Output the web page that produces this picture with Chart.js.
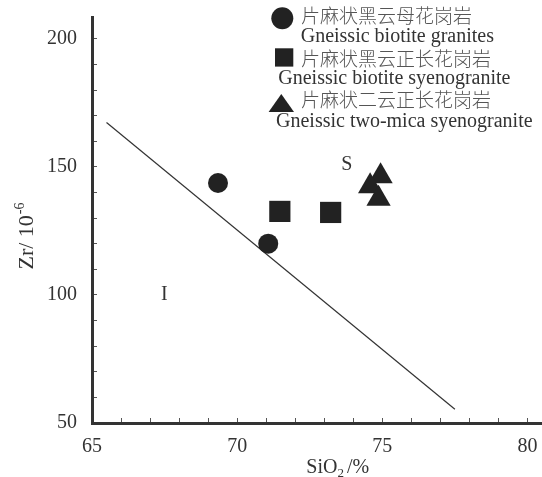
<!DOCTYPE html>
<html><head><meta charset="utf-8">
<script src="https://cdn.jsdelivr.net/npm/chart.js@4"></script>
<style>html,body{margin:0;padding:0;background:#fff;overflow:hidden}#wrap{width:542px;height:477px;position:relative}canvas{display:block}</style>
</head><body><div id="wrap"><canvas id="c"></canvas></div>
<script>
// ---- data ----
const graniteSiO2 = [69.34, 71.07];
const graniteZr = [143.7, 120.0];
const syenograniteSiO2 = [71.47, 73.22];
const syenograniteZr = [132.6, 132.2];
const twoMicaSiO2 = [74.94, 74.58, 74.87];
const twoMicaZr = [146.3, 142.4, 137.5];
const boundarySiO2 = [65.5, 77.5];
const boundaryZr = [167.3, 55.4];
const xTickLabels = [65, 70, 75, 80];
const yTickLabels = [50, 100, 150, 200];
const fieldNames = ['S', 'I'];
const fieldSiO2 = [73.78, 67.49];
const fieldZr = [150.8, 100.1];
const seriesCN = ['片麻状黑云母花岗岩', '片麻状黑云正长花岗岩', '片麻状二云正长花岗岩'];
const seriesEN = ['Gneissic biotite granites', 'Gneissic biotite syenogranite', 'Gneissic two-mica syenogranite'];

const SERIF = "'Liberation Serif','Times New Roman',serif";
const CJK = "'Noto Sans CJK SC',sans-serif";
const MARK = '#222';
const TEXT = '#333';

const zip = (xs, ys) => xs.map((x, i) => ({x, y: ys[i]}));
const near = (a, b) => Math.abs(a - b) < 1e-6;

const overlay = {
  id: 'overlay',
  afterDraw(chart) {
    const ctx = chart.ctx;
    const xs = chart.scales.x, ys = chart.scales.y;
    ctx.save();
    // field labels S / I
    ctx.fillStyle = TEXT;
    ctx.font = '20px ' + SERIF;
    ctx.textAlign = 'center';
    ctx.textBaseline = 'middle';
    fieldNames.forEach((n, i) => {
      ctx.fillText(n, xs.getPixelForValue(fieldSiO2[i]), ys.getPixelForValue(fieldZr[i]));
    });
    // x title: SiO2/%
    ctx.textAlign = 'left';
    ctx.textBaseline = 'alphabetic';
    const f1 = '20px ' + SERIF, f2 = '13px ' + SERIF;
    ctx.font = f1; const wA = ctx.measureText('SiO').width;
    ctx.font = f2; const wB = ctx.measureText('2').width;
    ctx.font = f1; const wC = ctx.measureText('/%').width;
    const gap = 3;
    const x0 = 337.7 - (wA + wB + gap + wC) / 2;
    ctx.font = f1; ctx.fillText('SiO', x0, 473);
    ctx.font = f2; ctx.fillText('2', x0 + wA, 477);
    ctx.font = f1; ctx.fillText('/%', x0 + wA + wB + gap, 473);
    // y title: Zr/10^-6
    ctx.save();
    ctx.translate(26, 236);
    ctx.rotate(-Math.PI / 2);
    ctx.textBaseline = 'middle';
    ctx.font = '22px ' + SERIF; const wM = ctx.measureText('Zr/ 10').width;
    ctx.font = '14px ' + SERIF; const wS = ctx.measureText('-6').width;
    const sx = -(wM + wS + 1) / 2;
    ctx.font = '22px ' + SERIF; ctx.fillText('Zr/ 10', sx, 1);
    ctx.font = '14px ' + SERIF; ctx.fillText('-6', sx + wM + 1, -6);
    ctx.restore();
    // legend
    ctx.fillStyle = MARK;
    ctx.beginPath(); ctx.arc(282.3, 18.3, 11, 0, Math.PI * 2); ctx.fill();
    ctx.fillRect(275, 48.3, 18.3, 18.3);
    ctx.beginPath(); ctx.moveTo(281.3, 94); ctx.lineTo(294, 112); ctx.lineTo(268.6, 112); ctx.closePath(); ctx.fill();
    ctx.textAlign = 'left';
    ctx.textBaseline = 'middle';
    const cnY = [15.7, 58.3, 100], enY = [36.7, 79, 121.7], enX = [300.7, 278.3, 276];
    seriesCN.forEach((t, i) => {
      ctx.fillStyle = '#555';
      ctx.font = '300 19px ' + CJK;
      ctx.fillText(t, 301, cnY[i]);
      ctx.fillStyle = TEXT;
      ctx.font = '20px ' + SERIF;
      ctx.fillText(seriesEN[i], enX[i], enY[i]);
    });
    ctx.restore();
  }
};

new Chart(document.getElementById('c'), {
  type: 'scatter',
  data: {
    datasets: [
      {label: seriesEN[0], data: zip(graniteSiO2, graniteZr), pointStyle: 'circle', pointRadius: 10,
       backgroundColor: MARK, borderColor: MARK, borderWidth: 0},
      {label: seriesEN[1], data: zip(syenograniteSiO2, syenograniteZr), pointStyle: 'rect', pointRadius: 15,
       backgroundColor: MARK, borderColor: MARK, borderWidth: 0},
      {label: seriesEN[2], data: zip(twoMicaSiO2, twoMicaZr), pointStyle: 'triangle', pointRadius: 14,
       backgroundColor: MARK, borderColor: MARK, borderWidth: 0},
      {label: 'boundary', data: zip(boundarySiO2, boundaryZr), showLine: true, pointRadius: 0,
       borderColor: '#333', borderWidth: 1.2, fill: false}
    ]
  },
  options: {
    responsive: true,
    maintainAspectRatio: false,
    animation: false,
    events: [],
    layout: {autoPadding: false, padding: {top: 17, right: 0, bottom: 0, left: 0}},
    plugins: {legend: {display: false}, tooltip: {enabled: false}, title: {display: false}},
    scales: {
      x: {
        type: 'linear', min: 65, max: 80.5,
        afterFit: s => { s.height = 54; s.paddingLeft = 0; s.paddingRight = 0; },
        afterBuildTicks: s => {
          s.ticks = s.ticks.filter(t => near(t.value, Math.round(t.value)) && t.value <= 80.01)
                           .map(t => ({value: Math.round(t.value)}));
        },
        ticks: {stepSize: 1, autoSkip: false, maxRotation: 0, padding: 17, color: TEXT, includeBounds: false,
                font: {family: SERIF, size: 20},
                callback: v => xTickLabels.some(l => near(l, v)) ? String(Math.round(v)) : ''},
        grid: {drawOnChartArea: false, drawTicks: true, tickLength: -5, color: '#555', lineWidth: 1},
        border: {display: true, color: '#333', width: 3}
      },
      y: {
        type: 'linear', min: 50, max: 208.5,
        afterFit: s => { s.width = 92; s.paddingTop = 0; s.paddingBottom = 0; },
        afterBuildTicks: s => {
          s.ticks = s.ticks.filter(t => near(t.value / 10, Math.round(t.value / 10)))
                           .map(t => ({value: Math.round(t.value)}));
        },
        ticks: {stepSize: 10, autoSkip: false, padding: 20, color: TEXT, includeBounds: false,
                font: {family: SERIF, size: 20},
                callback: v => yTickLabels.some(l => near(l, v)) ? String(Math.round(v)) : ''},
        grid: {drawOnChartArea: false, drawTicks: true, tickLength: -5, color: '#555', lineWidth: 1},
        border: {display: true, color: '#333', width: 3}
      }
    }
  },
  plugins: [overlay]
});
</script>
</body></html>
